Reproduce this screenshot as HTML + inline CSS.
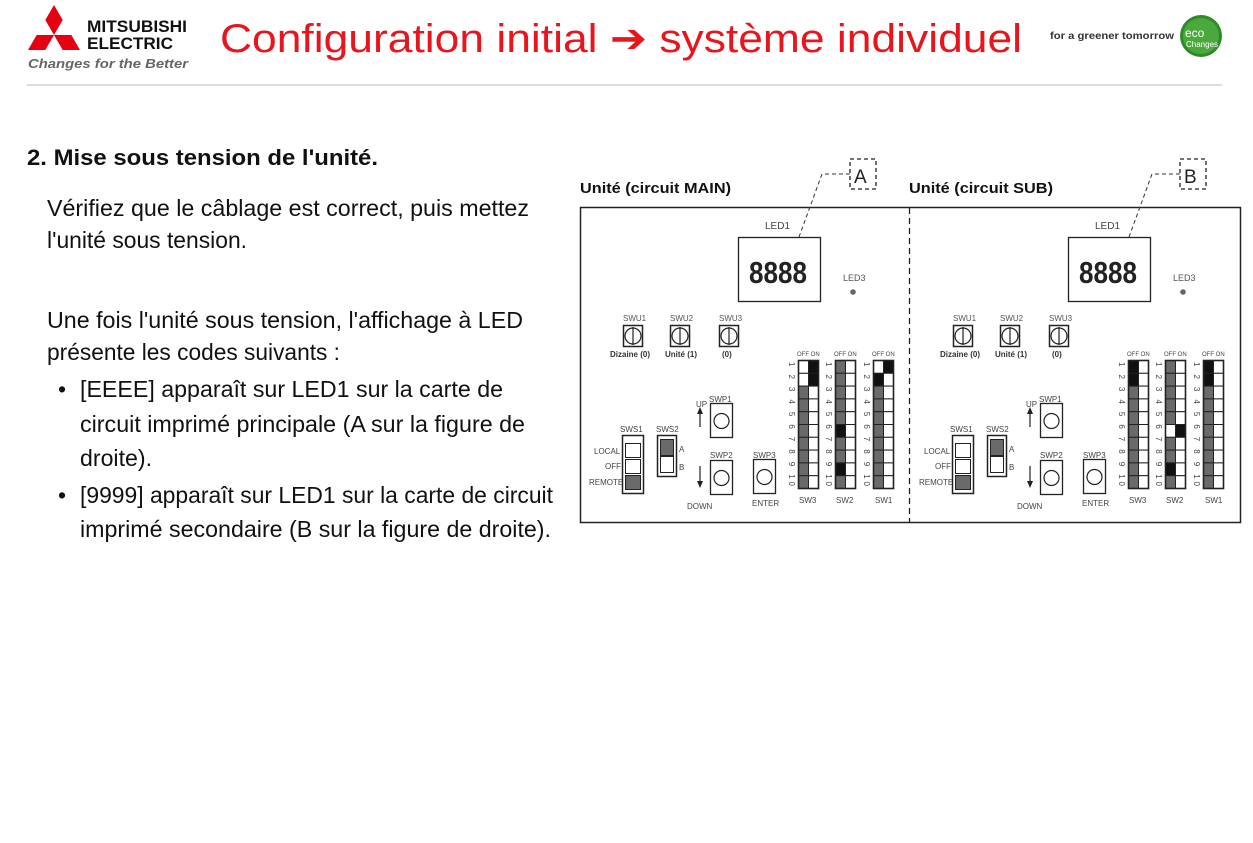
<!DOCTYPE html>
<html><head><meta charset="utf-8"><style>
html,body{margin:0;padding:0;background:#fff;}
svg{display:block;}
text{font-family:"Liberation Sans",sans-serif;}
</style></head><body>
<svg id="s" width="1253" height="843" viewBox="0 0 1253 843" xmlns="http://www.w3.org/2000/svg">
<!-- Logo -->
<g fill="#e60012">
<polygon points="54,5 62.7,20 54,35 45.3,20"/>
<polygon points="54,35 45.3,50 28,50 36.7,35"/>
<polygon points="54,35 71.3,35 80,50 62.7,50"/>
</g>
<text x="87" y="32" font-size="17" font-weight="bold" textLength="100" lengthAdjust="spacingAndGlyphs" fill="#111">MITSUBISHI</text>
<text x="87" y="49" font-size="17" font-weight="bold" textLength="86" lengthAdjust="spacingAndGlyphs" fill="#111">ELECTRIC</text>
<text x="28" y="68" font-size="13" font-weight="bold" font-style="italic" textLength="160" lengthAdjust="spacingAndGlyphs" fill="#666">Changes for the Better</text>
<text x="220" y="52" font-size="40" fill="#e8161c" textLength="802" lengthAdjust="spacingAndGlyphs">Configuration initial ➔ système individuel</text>
<text x="1050" y="39" font-size="10" font-weight="bold" fill="#333" textLength="124" lengthAdjust="spacingAndGlyphs">for a greener tomorrow</text>
<circle cx="1201" cy="36" r="21" fill="#2f8a2a"/>
<circle cx="1201" cy="36" r="18" fill="#4aa83c"/>
<text x="1185" y="37" font-size="12" fill="#fff" font-family="Liberation Serif">eco</text>
<text x="1186" y="47" font-size="8" fill="#fff" font-family="Liberation Serif">Changes</text>
<line x1="27" y1="85" x2="1222" y2="85" stroke="#bbb" stroke-width="1"/>

<!-- Left text -->
<g fill="#111">
<text x="27" y="165" font-size="22" font-weight="bold" textLength="351" lengthAdjust="spacingAndGlyphs">2.  Mise sous tension de l'unité.</text>
<g font-size="23">
<text x="47" y="216" textLength="482" lengthAdjust="spacingAndGlyphs">Vérifiez que le câblage est correct, puis mettez</text>
<text x="47" y="248" textLength="200" lengthAdjust="spacingAndGlyphs">l'unité sous tension.</text>
<text x="47" y="328" textLength="476" lengthAdjust="spacingAndGlyphs">Une fois l'unité sous tension, l'affichage à LED</text>
<text x="47" y="360" textLength="293" lengthAdjust="spacingAndGlyphs">présente les codes suivants :</text>
<text x="58" y="397">•</text>
<text x="80" y="397" textLength="423" lengthAdjust="spacingAndGlyphs">[EEEE] apparaît sur LED1 sur la carte de</text>
<text x="80" y="432" textLength="445" lengthAdjust="spacingAndGlyphs">circuit imprimé principale (A sur la figure de</text>
<text x="80" y="466" textLength="72" lengthAdjust="spacingAndGlyphs">droite).</text>
<text x="58" y="503">•</text>
<text x="80" y="503" textLength="473" lengthAdjust="spacingAndGlyphs">[9999] apparaît sur LED1 sur la carte de circuit</text>
<text x="80" y="537" textLength="471" lengthAdjust="spacingAndGlyphs">imprimé secondaire (B sur la figure de droite).</text>
</g></g>

<!-- Diagram -->
<rect x="580.5" y="207.5" width="660" height="315" fill="none" stroke="#222" stroke-width="1.5"/>
<line x1="909.5" y1="208" x2="909.5" y2="522" stroke="#222" stroke-width="1.3" stroke-dasharray="6,4"/>

<g id="pA">
<text x="580" y="193" font-size="15" font-weight="bold" fill="#111" textLength="151" lengthAdjust="spacingAndGlyphs">Unité (circuit MAIN)</text>
<rect x="850" y="159" width="26" height="30" fill="none" stroke="#222" stroke-width="1.3" stroke-dasharray="4,3"/>
<text x="854" y="183" font-size="19" fill="#222">A</text>
<polyline points="799,237 822,174 850,174" fill="none" stroke="#333" stroke-width="1" stroke-dasharray="4,3"/>
<text x="765" y="229" font-size="10" fill="#444">LED1</text>
<rect x="738.5" y="237.5" width="82" height="64" fill="none" stroke="#222" stroke-width="1.3"/>
<text x="749" y="283" font-size="31" fill="#222" font-weight="bold" textLength="58" lengthAdjust="spacingAndGlyphs">8888</text>
<text x="843" y="281" font-size="9" fill="#555">LED3</text>
<circle cx="853" cy="292" r="2.8" fill="#666"/>
<g font-size="8" fill="#555">
<text x="623" y="321">SWU1</text><text x="670" y="321">SWU2</text><text x="719" y="321">SWU3</text>
</g>
<g font-size="8" font-weight="bold" fill="#333">
<text x="610" y="357">Dizaine (0)</text><text x="665" y="357">Unité (1)</text><text x="722" y="357">(0)</text>
</g>
</g>

<g id="pB">
<text x="909" y="193" font-size="15" font-weight="bold" fill="#111" textLength="144" lengthAdjust="spacingAndGlyphs">Unité (circuit SUB)</text>
<rect x="1180" y="159" width="26" height="30" fill="none" stroke="#222" stroke-width="1.3" stroke-dasharray="4,3"/>
<text x="1184" y="183" font-size="19" fill="#222">B</text>
<polyline points="1129,237 1152,174 1180,174" fill="none" stroke="#333" stroke-width="1" stroke-dasharray="4,3"/>
<text x="1095" y="229" font-size="10" fill="#444">LED1</text>
<rect x="1068.5" y="237.5" width="82" height="64" fill="none" stroke="#222" stroke-width="1.3"/>
<text x="1079" y="283" font-size="31" fill="#222" font-weight="bold" textLength="58" lengthAdjust="spacingAndGlyphs">8888</text>
<text x="1173" y="281" font-size="9" fill="#555">LED3</text>
<circle cx="1183" cy="292" r="2.8" fill="#666"/>
<g font-size="8" fill="#555">
<text x="953" y="321">SWU1</text><text x="1000" y="321">SWU2</text><text x="1049" y="321">SWU3</text>
</g>
<g font-size="8" font-weight="bold" fill="#333">
<text x="940" y="357">Dizaine (0)</text><text x="995" y="357">Unité (1)</text><text x="1052" y="357">(0)</text>
</g>
</g>

<g font-size="8" fill="#444">
<text x="620" y="432">SWS1</text><text x="656" y="432">SWS2</text>
<text x="594" y="454">LOCAL</text><text x="605" y="469">OFF</text><text x="589" y="485">REMOTE</text>
<text x="679" y="452">A</text><text x="679" y="470">B</text>
<text x="696" y="407">UP</text><text x="709" y="402">SWP1</text>
<text x="710" y="458">SWP2</text><text x="753" y="458">SWP3</text>
<text x="687" y="509">DOWN</text><text x="752" y="506">ENTER</text>
<text x="797" y="356" font-size="6">OFF ON</text><text x="834" y="356" font-size="6">OFF ON</text><text x="872" y="356" font-size="6">OFF ON</text>
<text x="799" y="503">SW3</text><text x="836" y="503">SW2</text><text x="875" y="503">SW1</text>
<text transform="translate(789,362) rotate(90)" font-size="8" textLength="124">1 2 3 4 5 6 7 8 9 10</text>
<text transform="translate(826,362) rotate(90)" font-size="8" textLength="124">1 2 3 4 5 6 7 8 9 10</text>
<text transform="translate(864,362) rotate(90)" font-size="8" textLength="124">1 2 3 4 5 6 7 8 9 10</text>

<text x="950" y="432">SWS1</text><text x="986" y="432">SWS2</text>
<text x="924" y="454">LOCAL</text><text x="935" y="469">OFF</text><text x="919" y="485">REMOTE</text>
<text x="1009" y="452">A</text><text x="1009" y="470">B</text>
<text x="1026" y="407">UP</text><text x="1039" y="402">SWP1</text>
<text x="1040" y="458">SWP2</text><text x="1083" y="458">SWP3</text>
<text x="1017" y="509">DOWN</text><text x="1082" y="506">ENTER</text>
<text x="1127" y="356" font-size="6">OFF ON</text><text x="1164" y="356" font-size="6">OFF ON</text><text x="1202" y="356" font-size="6">OFF ON</text>
<text x="1129" y="503">SW3</text><text x="1166" y="503">SW2</text><text x="1205" y="503">SW1</text>
<text transform="translate(1119,362) rotate(90)" font-size="8" textLength="124">1 2 3 4 5 6 7 8 9 10</text>
<text transform="translate(1156,362) rotate(90)" font-size="8" textLength="124">1 2 3 4 5 6 7 8 9 10</text>
<text transform="translate(1194,362) rotate(90)" font-size="8" textLength="124">1 2 3 4 5 6 7 8 9 10</text>
</g>
<g id="shapes"></g>
</svg>
<script>
var NS="http://www.w3.org/2000/svg",g=document.getElementById("shapes");
function el(t,a){var e=document.createElementNS(NS,t);for(var k in a)e.setAttribute(k,a[k]);g.appendChild(e);return e;}
function R(x,y,w,h,f,sw){el("rect",{x:x,y:y,width:w,height:h,fill:f||"none",stroke:"#222","stroke-width":sw||1});}
var G="#6a6a6a",B="#111",W="#fff";
var dips={A:[
 [[W,B],[W,B],[G,W],[G,W],[G,W],[G,W],[G,W],[G,W],[G,W],[G,W]],
 [[G,W],[G,W],[G,W],[G,W],[G,W],[B,W],[G,W],[G,W],[B,W],[G,W]],
 [[W,B],[B,W],[G,W],[G,W],[G,W],[G,W],[G,W],[G,W],[G,W],[G,W]]],
 B:[
 [[B,W],[B,W],[G,W],[G,W],[G,W],[G,W],[G,W],[G,W],[G,W],[G,W]],
 [[G,W],[G,W],[G,W],[G,W],[G,W],[W,B],[G,W],[G,W],[B,W],[G,W]],
 [[B,W],[B,W],[G,W],[G,W],[G,W],[G,W],[G,W],[G,W],[G,W],[G,W]]]};
[["A",0],["B",330]].forEach(function(p){
 var o=p[1],d=dips[p[0]];
 [623,670,719].forEach(function(x){R(x+o+.5,325.5,19,21,"#fff",1.5);el("circle",{cx:x+o+10,cy:336,r:8,fill:"none",stroke:"#222","stroke-width":1.2});el("line",{x1:x+o+10,y1:327,x2:x+o+10,y2:345,stroke:"#222","stroke-width":1.2});});
 R(622.5+o,435.5,21,58,"#fff",1.5);R(625.5+o,443.5,15,14,W);R(625.5+o,459.5,15,14,W);R(625.5+o,475.5,15,14,G);
 R(657.5+o,435.5,19,41,"#fff",1.5);R(660.5+o,439.5,13,16,G);R(660.5+o,456.5,13,16,W);
 [[710,403],[710,460],[753,459]].forEach(function(b){R(b[0]+o+.5,b[1]+.5,22,34,"#fff",1.3);el("circle",{cx:b[0]+o+11.5,cy:b[1]+18,r:7.5,fill:"none",stroke:"#222","stroke-width":1.2});});
 el("line",{x1:700+o,y1:427,x2:700+o,y2:413,stroke:"#222","stroke-width":1.2});el("polygon",{points:(697+o)+",414 "+(703+o)+",414 "+(700+o)+",407",fill:"#222"});
 el("line",{x1:700+o,y1:466,x2:700+o,y2:482,stroke:"#222","stroke-width":1.2});el("polygon",{points:(697+o)+",481 "+(703+o)+",481 "+(700+o)+",488",fill:"#222"});
 [798,835,873].forEach(function(x,i){
  var rh=12.8;
  for(var r=0;r<10;r++){R(x+o+.5,360.5+r*rh,10,rh,d[i][r][0]);R(x+o+10.5,360.5+r*rh,10,rh,d[i][r][1]);}
  R(x+o+.5,360.5,20,128,"none",1.6);
 });
});
</script>
</body></html>
